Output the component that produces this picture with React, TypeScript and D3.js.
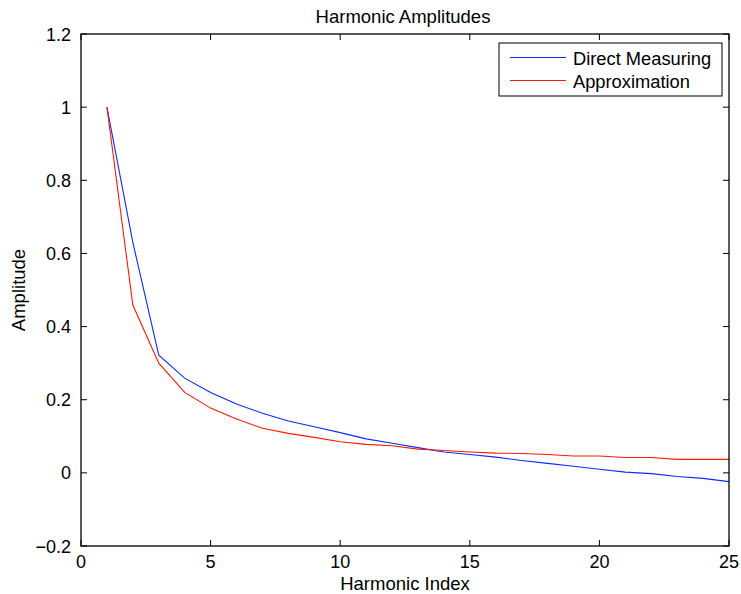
import React from "react";
import * as d3 from "d3";

const harmonicIndex = [1, 2, 3, 4, 5, 6, 7, 8, 9, 10, 11, 12, 13, 14, 15, 16, 17, 18, 19, 20, 21, 22, 23, 24, 25];
const directMeasuring = [1.0, 0.63, 0.322, 0.259, 0.22, 0.188, 0.163, 0.142, 0.126, 0.11, 0.093, 0.081, 0.069, 0.057, 0.05, 0.043, 0.034, 0.026, 0.018, 0.01, 0.002, -0.002, -0.01, -0.015, -0.024];
const approximation = [1.0, 0.459, 0.3, 0.22, 0.177, 0.147, 0.122, 0.108, 0.097, 0.085, 0.078, 0.074, 0.065, 0.061, 0.057, 0.054, 0.053, 0.05, 0.046, 0.046, 0.042, 0.042, 0.037, 0.037, 0.037];
const xTicks = [0, 5, 10, 15, 20, 25];
const yTicks = [-0.2, 0, 0.2, 0.4, 0.6, 0.8, 1, 1.2];
const seriesNames = ["Direct Measuring", "Approximation"];
const seriesColors = ["#0a2cff", "#ff1a00"];

const W = 741;
const H = 594;
const left = 81;
const right = 729;
const top = 34;
const bottom = 546;
const font = "'Liberation Sans', Arial, Helvetica, sans-serif";

export default function App() {
  const x = d3.scaleLinear().domain([0, 25]).range([left, right]);
  const y = d3.scaleLinear().domain([-0.2, 1.2]).range([bottom, top]);
  const line = d3
    .line<number>()
    .x((_, i) => x(harmonicIndex[i]))
    .y((d) => y(d));
  const series = [directMeasuring, approximation];
  const fmt = (v: number) => {
    const s = d3.format("")(Math.round(v * 10) / 10);
    return s.replace("-", "\u2212");
  };
  const tickLen = 6;
  const legX = 499;
  const legY = 43;
  const legW = 223;
  const legH = 53;

  return (
    <svg
      width={W}
      height={H}
      style={{ position: "absolute", left: 0, top: 0, background: "#fff" }}
      fontFamily={font}
    >
      <rect x={0} y={0} width={W} height={H} fill="#fff" />
      <text x={(left + right) / 2 - 2} y={23} textAnchor="middle" fontSize={18.5} fill="#000">
        Harmonic Amplitudes
      </text>
      {series.map((s, k) => (
        <path key={k} d={line(s) || ""} fill="none" stroke={seriesColors[k]} strokeWidth={1.1} />
      ))}
      <rect x={left} y={top} width={right - left} height={bottom - top} fill="none" stroke="#000" strokeWidth={1.3} />
      {xTicks.map((t) => (
        <g key={"x" + t}>
          <line x1={x(t)} x2={x(t)} y1={bottom} y2={bottom - tickLen} stroke="#000" />
          <line x1={x(t)} x2={x(t)} y1={top} y2={top + tickLen} stroke="#000" />
          <text x={x(t)} y={567.5} textAnchor="middle" fontSize={18} fill="#000">
            {t}
          </text>
        </g>
      ))}
      {yTicks.map((t) => (
        <g key={"y" + t}>
          <line x1={left} x2={left + tickLen} y1={y(t)} y2={y(t)} stroke="#000" />
          <line x1={right} x2={right - tickLen} y1={y(t)} y2={y(t)} stroke="#000" />
          <text x={71} y={y(t) + 6.5} textAnchor="end" fontSize={18} fill="#000">
            {fmt(t)}
          </text>
        </g>
      ))}
      <text x={(left + right) / 2} y={590} textAnchor="middle" fontSize={18.5} fill="#000">
        Harmonic Index
      </text>
      <text
        transform={`translate(25, ${(top + bottom) / 2}) rotate(-90)`}
        textAnchor="middle"
        fontSize={18.5}
        fill="#000"
      >
        Amplitude
      </text>
      <rect x={legX} y={legY} width={legW} height={legH} fill="#fff" stroke="#000" strokeWidth={1} />
      {seriesNames.map((n, k) => (
        <g key={n}>
          <line x1={510} x2={566} y1={57.5 + k * 23} y2={57.5 + k * 23} stroke={seriesColors[k]} strokeWidth={1.1} />
          <text x={573} y={57.5 + k * 23 + 7} fontSize={18.3} fill="#000">
            {n}
          </text>
        </g>
      ))}
    </svg>
  );
}
